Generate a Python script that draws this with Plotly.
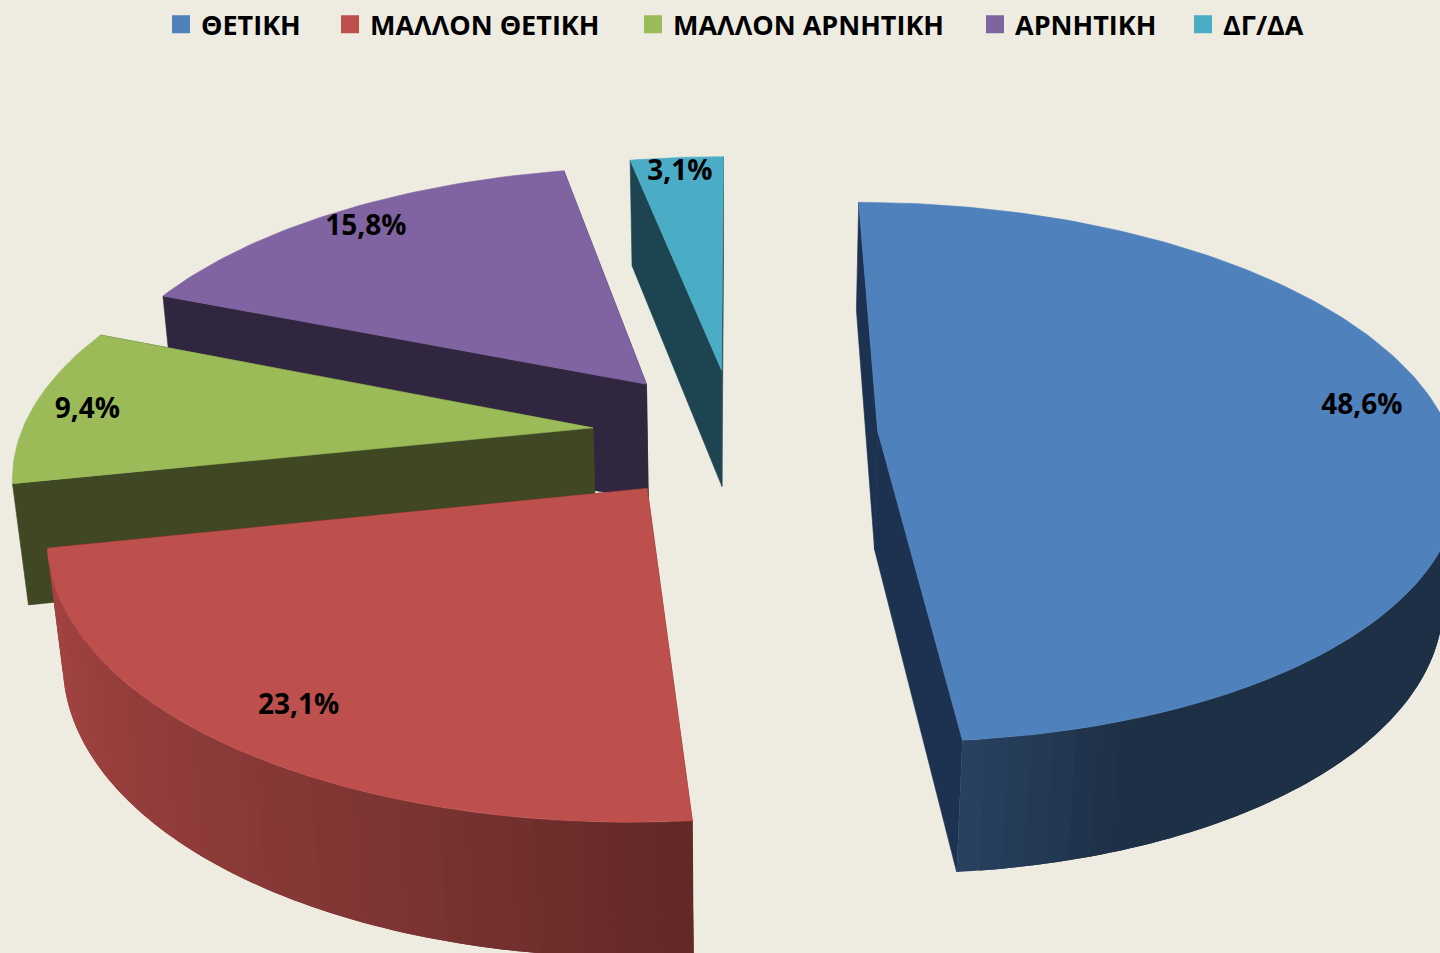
import math
import plotly.graph_objects as go

categories = ["ΘΕΤΙΚΗ", "ΜΑΛΛΟΝ ΘΕΤΙΚΗ", "ΜΑΛΛΟΝ ΑΡΝΗΤΙΚΗ", "ΑΡΝΗΤΙΚΗ", "ΔΓ/ΔΑ"]
values = [48.6, 23.1, 9.4, 15.8, 3.1]
labels = ["48,6%", "23,1%", "9,4%", "15,8%", "3,1%"]
top_colors = ["#4F81BD", "#BD4F4C", "#9BBB59", "#8064A2", "#4BACC6"]
inner_colors = ["#1D3150", "#6B2A28", "#3F4823", "#31263F", "#1C4451"]

BG = "#EEECE1"
FONT = "Open Sans, Noto Sans, sans-serif"
# camera / pie geometry
CX, CY, A, B, C, K, M = 735, 432, 572, 265, 122, 0.153, 0.022
EXPLODE = 0.25
LABEL_FRACTION = [0.868, 0.86, 0.90, 0.90, 0.92]
LABEL_SHIFT = [-3.5, -0.2, -1.0, 0, 0]
LEGEND_LEFT = [161, 330, 633, 975, 1183]
SHADE_ANGLES = [160, 176, 200, 224, 258]
SHADE_LEVELS = [0.37, 0.52, 0.66, 0.76, 0.87]


def project(x, y, z=0.0):
    w = 1 + K * y - M * z
    return CX + A * x / w, CY - (B * y + C * z) / w


def rgb_scale(hex_color, f):
    r, g, b = (int(hex_color[i:i + 2], 16) for i in (1, 3, 5))
    return f"rgb({r * f:.0f},{g * f:.0f},{b * f:.0f})"


def shade(theta):
    if theta <= SHADE_ANGLES[0]:
        return SHADE_LEVELS[0]
    for a, b, la, lb in zip(SHADE_ANGLES, SHADE_ANGLES[1:], SHADE_LEVELS, SHADE_LEVELS[1:]):
        if theta <= b:
            return la + (lb - la) * (theta - a) / (b - a)
    return SHADE_LEVELS[-1]


def polar(deg, r=1.0):
    t = math.radians(deg)
    return r * math.sin(t), r * math.cos(t)


fig = go.Figure()


def poly(points, color, outline=True):
    xs = [p[0] for p in points] + [points[0][0]]
    ys = [p[1] for p in points] + [points[0][1]]
    fig.add_trace(go.Scatter(x=xs, y=ys, mode="lines" if outline else "none", fill="toself",
                             fillcolor=color, line=dict(color=color, width=0.6),
                             hoverinfo="skip", showlegend=False))


# slice angular extents from the values
total = sum(values)
spans = []
acc = 0.0
for v in values:
    spans.append((acc, acc + v / total * 360))
    acc += v / total * 360

label_x, label_y, label_txt = [], [], []
# painter's order: back slices first
for i in [4, 3, 2, 1, 0]:
    a0, a1 = spans[i]
    mid = (a0 + a1) / 2
    ox, oy = polar(mid, EXPLODE)
    apex = (ox, oy)
    n = max(2, int(a1 - a0))
    angs = [a0 + (a1 - a0) * j / n for j in range(n + 1)]
    rim = [(ox + polar(t)[0], oy + polar(t)[1]) for t in angs]

    # radial inner faces
    for edge in (rim[0], rim[-1]):
        poly([project(*apex), project(*edge), project(*edge, -1), project(*apex, -1)],
             inner_colors[i])
    # outer wall with angular shading: only the part that faces the viewer,
    # drawn from high angle to low so each strip overlaps the next
    step = 2
    for j in range(n - step, -step, -step):
        j0 = max(j, 0)
        seg = rim[max(j0 - 2, 0):j0 + step + 1]
        if project(*rim[j0])[0] <= project(*rim[j0 + step])[0]:
            continue
        pts = [project(*p) for p in seg] + [project(*p, -1) for p in reversed(seg)]
        poly(pts, rgb_scale(top_colors[i], shade(angs[j0] + step / 2)), outline=False)
    # top face
    poly([project(*apex)] + [project(*p) for p in rim], top_colors[i])

    lx, ly = polar(mid + LABEL_SHIFT[i], LABEL_FRACTION[i])
    px, py = project(ox + lx, oy + ly)
    label_x.append(px)
    label_y.append(py)
    label_txt.append(labels[i])

fig.add_trace(go.Scatter(x=label_x, y=label_y, mode="text", text=label_txt,
                         textfont=dict(family=FONT, size=28, color="#000000", weight="bold"),
                         textposition="middle center", hoverinfo="skip", showlegend=False))

# legend entries: one positioned legend per category
legend_layout = {}
for k, (name, col, left) in enumerate(zip(categories, top_colors, LEGEND_LEFT)):
    key = "legend" if k == 0 else f"legend{k + 1}"
    fig.add_trace(go.Scatter(x=[None], y=[None], mode="markers", name=name, legend=key,
                             marker=dict(symbol="square", size=16, color=col,
                                         line=dict(color=col, width=2))))
    legend_layout[key] = dict(orientation="h", x=left / 1440, xanchor="left",
                              y=1.003, yanchor="top",
                              font=dict(family=FONT, size=27, color="#000000", weight="bold"),
                              bgcolor="rgba(0,0,0,0)")

fig.update_layout(
    width=1440, height=953, margin=dict(l=0, r=0, t=0, b=0),
    paper_bgcolor=BG, plot_bgcolor=BG,
    xaxis=dict(range=[0, 1440], visible=False, fixedrange=True),
    yaxis=dict(range=[953, 0], visible=False, fixedrange=True),
    font=dict(family=FONT),
    **legend_layout,
)

fig.write_html("out.html", config={"displayModeBar": False},
               post_script="document.body.style.margin='0';")
